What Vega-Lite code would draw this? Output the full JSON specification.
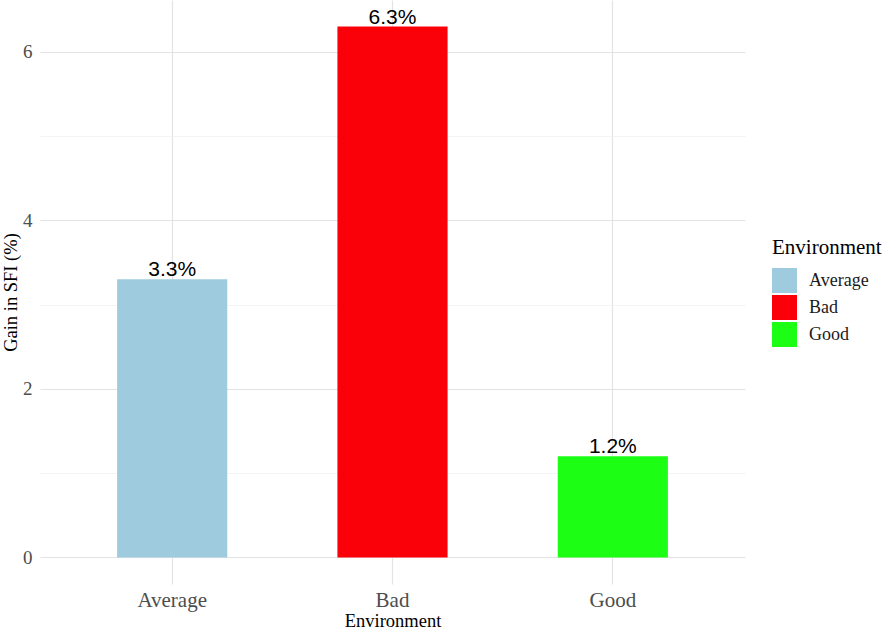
{
  "$schema": "https://vega.github.io/schema/vega-lite/v6.json",
  "autosize": "none",
  "padding": {"left": 40, "top": 0, "right": 141, "bottom": 46},
  "width": 705,
  "height": 584,
  "background": "white",
  "data": {
    "values": [
      {"Environment": "Average", "gain": 3.3, "label": "3.3%"},
      {"Environment": "Bad", "gain": 6.3, "label": "6.3%"},
      {"Environment": "Good", "gain": 1.2, "label": "1.2%"}
    ]
  },
  "encoding": {
    "x": {
      "field": "Environment",
      "type": "nominal",
      "scale": {"paddingInner": 0.5, "paddingOuter": 0.35},
      "axis": {
        "title": "Environment",
        "labelAngle": 0,
        "labelFont": "Liberation Serif",
        "labelFontSize": 21,
        "labelColor": "#4D4D4D",
        "labelPadding": 5,
        "titleFont": "Liberation Serif",
        "titleFontSize": 18.5,
        "titleFontWeight": "normal",
        "titleColor": "#000000",
        "titleBaseline": "alphabetic",
        "titleY": 42,
        "ticks": false,
        "domain": false,
        "grid": true,
        "bandPosition": 0.5,
        "gridColor": "#E3E3E3",
        "gridWidth": 1.2
      }
    },
    "y": {
      "field": "gain",
      "type": "quantitative",
      "scale": {"domain": [-0.315, 6.615], "nice": false, "zero": false},
      "axis": {
        "title": "Gain in SFI (%)",
        "values": [0, 1, 2, 3, 4, 5, 6],
        "labelExpr": "datum.value % 2 === 0 ? datum.label : ''",
        "labelFont": "Liberation Serif",
        "labelFontSize": 19,
        "labelColor": "#4D4D4D",
        "labelPadding": 8,
        "titleFont": "Liberation Serif",
        "titleFontSize": 18.5,
        "titleFontWeight": "normal",
        "titleColor": "#000000",
        "titleBaseline": "alphabetic",
        "titleX": -24,
        "titleY": 292,
        "ticks": false,
        "domain": false,
        "grid": true,
        "gridColor": {"condition": {"test": "datum.value % 2 === 1", "value": "#EFEFEF"}, "value": "#E3E3E3"},
        "gridWidth": {"condition": {"test": "datum.value % 2 === 1", "value": 0.7}, "value": 1.2}
      }
    }
  },
  "layer": [
    {
      "mark": {"type": "bar"},
      "encoding": {
        "color": {
          "field": "Environment",
          "type": "nominal",
          "scale": {
            "domain": ["Average", "Bad", "Good"],
            "range": ["#9fcbdf", "#fa0008", "#1cff14"]
          },
          "legend": {
            "title": "Environment",
            "orient": "none",
            "legendX": 732,
            "legendY": 237,
            "titleFont": "Liberation Serif",
            "titleFontSize": 21,
            "titleFontWeight": "normal",
            "titleColor": "#000000",
            "titlePadding": 10,
            "labelFont": "Liberation Serif",
            "labelFontSize": 18,
            "labelColor": "#1A1A1A",
            "labelOffset": 12,
            "symbolType": "square",
            "symbolSize": 625,
            "symbolStrokeWidth": 0,
            "rowPadding": 2
          }
        }
      }
    },
    {
      "mark": {
        "type": "text",
        "font": "Liberation Sans",
        "fontSize": 21,
        "color": "#000000",
        "baseline": "alphabetic",
        "dy": -3
      },
      "encoding": {
        "text": {"field": "label", "type": "nominal"}
      }
    }
  ],
  "config": {
    "view": {"stroke": null}
  }
}
